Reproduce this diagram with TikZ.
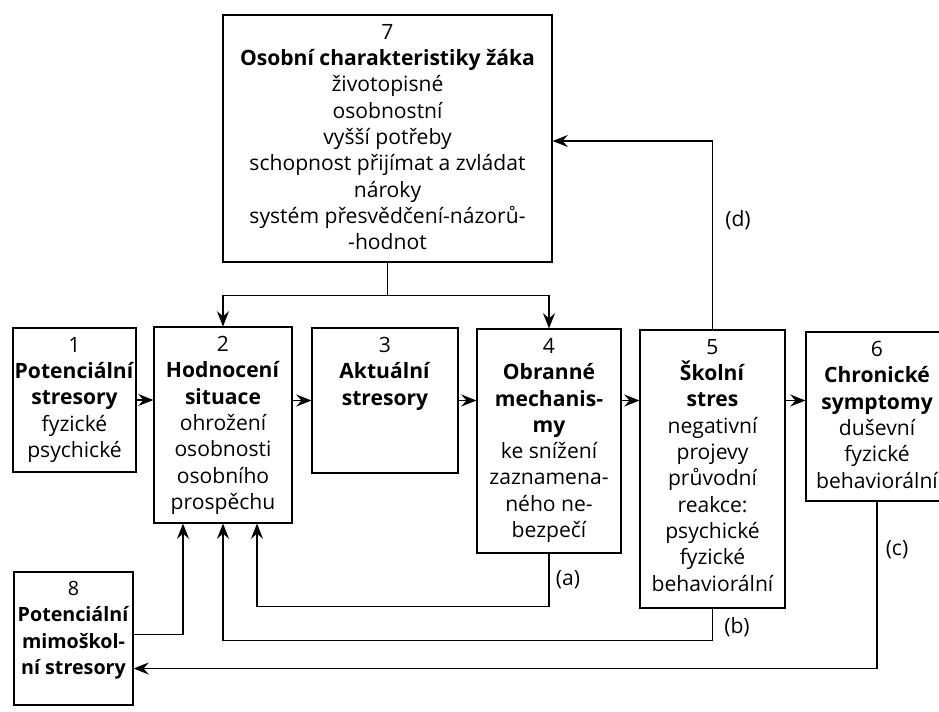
\documentclass[tikz,border=0pt]{standalone}
\usepackage{fontspec}
\setmainfont{Open Sans}
\usetikzlibrary{arrows.meta}

\begin{document}
\begin{tikzpicture}[x=0.025cm, y=-0.025cm,
    box/.style={draw, line width=0.8pt, inner sep=0pt},
    boxtext/.style={anchor=north, align=center, inner sep=0pt, yshift=-0.24cm, font=\fontsize{15}{18.7}\selectfont},
    arr/.style={line width=0.8pt, -{Stealth[length=3.8mm, width=3mm, inset=1.3mm]}},
    tag/.style={font=\fontsize{15}{18}\selectfont}]
  \useasboundingbox (0,0) rectangle (939,711);
  \clip (0,0) rectangle (939,711);

  \node[box, minimum width=8.225cm, minimum height=6.175cm, label={[boxtext]north:{7\\ \textbf{Osobní charakteristiky žáka}\\ životopisné\\ osobnostní\\ vyšší potřeby\\ schopnost přijímat a zvládat\\ nároky\\ systém přesvědčení-názorů-\\ -hodnot}}] (s7) at (387.5,138.5) {};
  \node[box, minimum width=3.075cm, minimum height=3.6cm, label={[boxtext]north:{1\\ \textbf{Potenciální}\\ \textbf{stresory}\\ fyzické\\ psychické}}] (s1) at (74.5,400) {};
  \node[box, minimum width=3.45cm, minimum height=4.9cm, label={[boxtext]north:{2\\ \textbf{Hodnocení}\\ \textbf{situace}\\ ohrožení\\ osobnosti\\ osobního\\ prospěchu}}] (s2) at (223,425) {};
  \node[box, minimum width=3.65cm, minimum height=3.625cm, label={[boxtext]north:{3\\ \textbf{Aktuální}\\ \textbf{stresory}}}] (s3) at (385,400.5) {};
  \node[box, minimum width=3.6cm, minimum height=5.6cm, label={[boxtext]north:{4\\ \textbf{Obranné}\\ \textbf{mechanis-}\\ \textbf{my}\\ ke snížení\\ zaznamena-\\ ného ne-\\ bezpečí}}] (s4) at (549,441) {};
  \node[box, minimum width=3.625cm, minimum height=6.95cm, label={[boxtext]north:{5\\ \textbf{Školní}\\ \textbf{stres}\\ negativní\\ projevy\\ průvodní\\ reakce:\\ psychické\\ fyzické\\ behaviorální}}] (s5) at (712.5,469) {};
  \node[box, minimum width=3.55cm, minimum height=4.225cm, label={[boxtext]north:{6\\ \textbf{Chronické}\\ \textbf{symptomy}\\ duševní\\ fyzické\\ behaviorální}}] (s6) at (877,416.5) {};
  \node[box, minimum width=2.975cm, minimum height=3.325cm, label={[boxtext, font=\fontsize{14}{18.7}\selectfont]north:{8\\ \textbf{Potenciální}\\ \textbf{mimoškol-}\\ \textbf{ní stresory}}}] (s8) at (73.5,638.5) {};

  \node[tag] (la) at (568,580) {(a)};
  \node[tag] (lb) at (737,627) {(b)};
  \node[tag] (lc) at (897,550) {(c)};
  \node[tag] (ld) at (738,220) {(d)};
  \coordinate (dturn) at (714,141);

  % main row
  \draw[arr] (s1.east) -- (s2.west |- s1.east);
  \draw[arr] (s2.east |- s3.west) -- (s3.west);
  \draw[arr] (s3.east) -- (s4.west |- s3.east);
  \draw[arr] (s4.east |- s3.east) -- (s5.west |- s3.east);
  \draw[arr] (s5.east |- s3.east) -- (s6.west |- s3.east);

  % from 7 down, and back up (d)
  \draw[line width=0.8pt] (s7.south) -- ++(0,33) coordinate (fork);
  \draw[arr] (fork) -| (s2.north);
  \draw[arr] (fork) -| (s4.north);
  \draw[arr] (s5.north) |- (s7.east |- dturn);

  % feedback loops
  \draw[arr] (s4.south) -- ++(0,53) -| ([xshift=0.85cm]s2.south);
  \draw[arr] (s5.south) -- ++(0,32) -| (s2.south);
  \draw[arr] ([yshift=0.1cm]s8.east) -| ([xshift=-1cm]s2.south);
  \draw[arr] (s6.south) |- ([yshift=-0.75cm]s8.east);
\end{tikzpicture}
\end{document}
